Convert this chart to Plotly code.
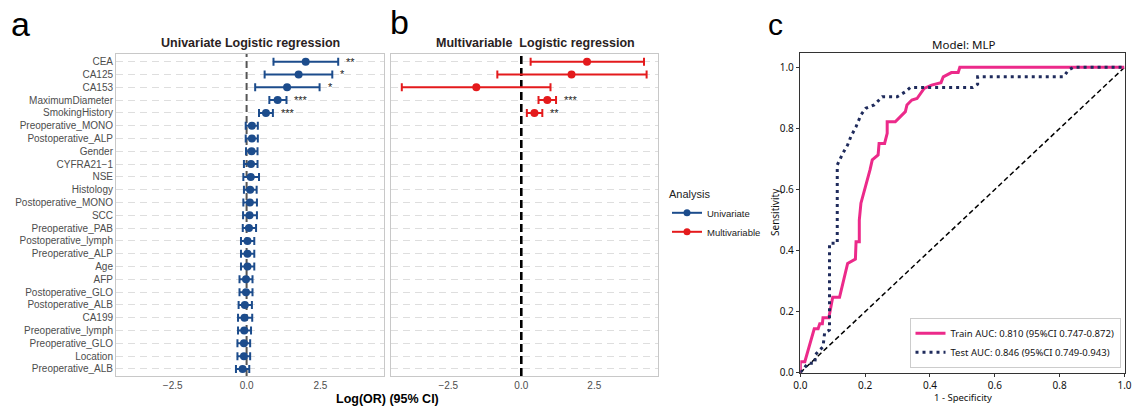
import plotly.graph_objects as go

W, H = 1134, 408

variables = ["CEA", "CA125", "CA153", "MaximumDiameter", "SmokingHistory",
             "Preoperative_MONO", "Postoperative_ALP", "Gender", "CYFRA21\u22121", "NSE",
             "Histology", "Postoperative_MONO", "SCC", "Preoperative_PAB",
             "Postoperative_lymph", "Preoperative_ALP", "Age", "AFP",
             "Postoperative_GLO", "Postoperative_ALB", "CA199", "Preoperative_lymph",
             "Preoperative_GLO", "Location", "Preoperative_ALB"]

uni_logor = [2.00, 1.76, 1.37, 1.05, 0.655, 0.18, 0.18, 0.17, 0.15, 0.14, 0.12, 0.11, 0.10,
             0.08, 0.03, 0.03, 0.03, -0.02, -0.02, -0.06, -0.07, -0.08, -0.09, -0.09, -0.135]
uni_low = [0.91, 0.61, 0.29, 0.77, 0.42, -0.03, -0.03, -0.02, -0.09, -0.11, -0.09, -0.11, -0.12,
           -0.13, -0.19, -0.19, -0.19, -0.24, -0.24, -0.27, -0.29, -0.29, -0.31, -0.31, -0.36]
uni_high = [3.10, 2.90, 2.47, 1.35, 0.89, 0.38, 0.38, 0.37, 0.37, 0.42, 0.34, 0.35, 0.35,
            0.32, 0.26, 0.26, 0.26, 0.20, 0.20, 0.18, 0.19, 0.15, 0.12, 0.12, 0.09]
uni_sig = ["**", "*", "*", "***", "***"] + [""] * 20

multi_vars = ["CEA", "CA125", "CA153", "MaximumDiameter", "SmokingHistory"]
multi_logor = [2.25, 1.72, -1.54, 0.89, 0.45]
multi_low = [0.32, -0.82, -4.09, 0.59, 0.19]
multi_high = [4.20, 4.29, 1.00, 1.19, 0.72]
multi_sig = ["", "", "", "***", "**"]

x_ticks = [-2.5, 0.0, 2.5]

train_fpr = [0, 0, 0.014, 0.043, 0.055, 0.06, 0.068, 0.07, 0.088, 0.092, 0.10, 0.121, 0.146,
             0.17, 0.172, 0.182, 0.182, 0.187, 0.202, 0.215, 0.222, 0.24, 0.243, 0.26, 0.268,
             0.268, 0.293, 0.324, 0.329, 0.344, 0.36, 0.382, 0.405, 0.434, 0.441, 0.466,
             0.487, 0.492, 1.0]
train_tpr = [0, 0.036, 0.036, 0.144, 0.144, 0.16, 0.16, 0.18, 0.18, 0.205, 0.247, 0.247, 0.358,
             0.372, 0.429, 0.429, 0.5, 0.555, 0.61, 0.664, 0.697, 0.713, 0.751, 0.751, 0.784,
             0.822, 0.822, 0.855, 0.877, 0.893, 0.898, 0.931, 0.942, 0.950, 0.969, 0.983,
             0.983, 1.0, 1.0]
test_fpr = [0, 0.024, 0.045, 0.047, 0.07, 0.075, 0.09, 0.09, 0.114, 0.114, 0.131, 0.146, 0.156,
            0.172, 0.187, 0.202, 0.228, 0.253, 0.299, 0.324, 0.339, 0.532, 0.547, 0.547,
            0.812, 0.827, 0.842, 1.0]
test_tpr = [0, 0.031, 0.031, 0.06, 0.085, 0.13, 0.14, 0.424, 0.424, 0.68, 0.718, 0.746, 0.773,
            0.806, 0.844, 0.866, 0.877, 0.904, 0.904, 0.920, 0.934, 0.934, 0.945, 0.969,
            0.969, 0.991, 1.0, 1.0]
train_label = "Train AUC: 0.810 (95%CI 0.747-0.872)"
test_label = "Test AUC: 0.846 (95%CI 0.749-0.943)"

BLUE = "#1c4c8c"
RED = "#e41a1c"
PINK = "#ec2a8a"
NAVY = "#1f2b5c"
SANS = "Liberation Sans, Arial, sans-serif"
SANS_C = "Noto Sans, DejaVu Sans, sans-serif"

Y_RANGE = [24.55, -0.6]


def px_x(p):
    return p / W


def px_y(p):
    return 1 - p / H


fig = go.Figure()

idx = {v: i for i, v in enumerate(variables)}
uni_y = [idx[v] for v in variables]
multi_y = [idx[v] for v in multi_vars]

# reference lines at log(OR) = 0 (drawn first, beneath the points)
fig.add_trace(go.Scatter(x=[0, 0], y=Y_RANGE, mode="lines", xaxis="x", yaxis="y",
                         line=dict(color="#555555", width=2, dash="7px,4px"),
                         showlegend=False, hoverinfo="skip"))
fig.add_trace(go.Scatter(x=[0, 0], y=Y_RANGE, mode="lines", xaxis="x2", yaxis="y2",
                         line=dict(color="black", width=2.6, dash="8px,4px"),
                         showlegend=False, hoverinfo="skip"))

fig.add_trace(go.Scatter(
    x=uni_logor, y=uni_y, mode="markers", xaxis="x", yaxis="y",
    marker=dict(color=BLUE, size=8),
    error_x=dict(type="data", symmetric=False,
                 array=[h - o for h, o in zip(uni_high, uni_logor)],
                 arrayminus=[o - l for o, l in zip(uni_logor, uni_low)],
                 color=BLUE, thickness=2, width=4),
    showlegend=False, hoverinfo="skip"))

fig.add_trace(go.Scatter(
    x=multi_logor, y=multi_y, mode="markers", xaxis="x2", yaxis="y2",
    marker=dict(color=RED, size=8),
    error_x=dict(type="data", symmetric=False,
                 array=[h - o for h, o in zip(multi_high, multi_logor)],
                 arrayminus=[o - l for o, l in zip(multi_logor, multi_low)],
                 color=RED, thickness=2, width=4),
    showlegend=False, hoverinfo="skip"))

# legend-only entries
fig.add_trace(go.Scatter(x=[None], y=[None], mode="lines+markers", name="Univariate",
                         line=dict(color=BLUE, width=2), marker=dict(color=BLUE, size=7),
                         xaxis="x", yaxis="y", legend="legend"))
fig.add_trace(go.Scatter(x=[None], y=[None], mode="lines+markers", name="Multivariable",
                         line=dict(color=RED, width=2), marker=dict(color=RED, size=7),
                         xaxis="x", yaxis="y", legend="legend"))

# ROC
fig.add_trace(go.Scatter(x=[0, 1], y=[0, 1], mode="lines", xaxis="x3", yaxis="y3",
                         line=dict(color="black", width=1.5, dash="5px,3px"),
                         showlegend=False, hoverinfo="skip"))
fig.add_trace(go.Scatter(x=train_fpr, y=train_tpr, mode="lines", xaxis="x3", yaxis="y3",
                         name=train_label, line=dict(color=PINK, width=3),
                         legend="legend2"))
fig.add_trace(go.Scatter(x=test_fpr, y=test_tpr, mode="lines", xaxis="x3", yaxis="y3",
                         name=test_label, line=dict(color=NAVY, width=3, dash="3px,4px"),
                         legend="legend2"))

# significance stars
annotations = []
for v, h, s in zip(variables, uni_high, uni_sig):
    if s:
        annotations.append(dict(x=h + 0.2, y=idx[v], xref="x", yref="y", text=s,
                                showarrow=False, xanchor="left", yanchor="middle",
                                font=dict(family=SANS, size=11, color="#222222")))
for v, h, s in zip(multi_vars, multi_high, multi_sig):
    if s:
        annotations.append(dict(x=h + 0.2, y=idx[v], xref="x2", yref="y2", text=s,
                                showarrow=False, xanchor="left", yanchor="middle",
                                font=dict(family=SANS, size=11, color="#222222")))


def ann(text, x, y, size, bold=False, family=SANS, color="#222222", angle=0, xanchor="center"):
    annotations.append(dict(text=("<b>%s</b>" % text) if bold else text, x=px_x(x), y=px_y(y),
                            xref="paper", yref="paper", showarrow=False, xanchor=xanchor,
                            yanchor="middle", textangle=angle,
                            font=dict(family=family, size=size, color=color)))


ann("a", 20, 24, 34, family=SANS, color="black")
ann("b", 399, 22, 34, family=SANS, color="black")
ann("c", 775, 24, 30, family=SANS, color="black")
ann("Univariate Logistic regression", 250, 43, 12.5, bold=True, color="#2a2222")
ann("Multivariable&nbsp;&nbsp;Logistic regression", 535, 43, 12.5, bold=True, color="#2a2222")
ann("Log(OR) (95% CI)", 387, 399, 12.5, bold=True, color="black")
ann("Model: MLP", 963, 44, 11.5, family=SANS_C, color="#111111")
ann("1 - Specificity", 963, 397, 9.5, family=SANS_C, color="#111111")
ann("Sensitivity", 775, 212, 10, family=SANS_C, color="#111111", angle=-90)

forest_x = dict(range=[-4.42, 4.65], tickvals=x_ticks, ticktext=["\u22122.5", "0.0", "2.5"],
                showgrid=False, zeroline=False, showline=True, mirror=True,
                linecolor="#c8c8c8", linewidth=1, ticks="", automargin=False,
                tickfont=dict(family=SANS, size=10, color="#4d4d4d"))
forest_y = dict(range=Y_RANGE, tickvals=list(range(len(variables))),
                showgrid=True, gridcolor="#dedede", gridwidth=1, griddash="7px,5px",
                zeroline=False, showline=True, mirror=True, linecolor="#c8c8c8",
                linewidth=1, ticks="", automargin=False,
                tickfont=dict(family=SANS, size=10, color="#4d4d4d"))

ax_a_x = dict(forest_x, domain=[px_x(116), px_x(384)], anchor="y")
ax_a_y = dict(forest_y, domain=[px_y(376), px_y(54)], anchor="x", ticktext=variables)
ax_b_x = dict(forest_x, domain=[px_x(390.7), px_x(658.3)], anchor="y2",
              range=[-4.47, 4.69])
ax_b_y = dict(forest_y, domain=[px_y(376), px_y(54)], anchor="x2", showticklabels=False,
              ticktext=variables)

roc_common = dict(showgrid=False, zeroline=False, showline=True, mirror=True,
                  linecolor="#333333", linewidth=1, ticks="outside", ticklen=3.5,
                  tickcolor="#333333", tickwidth=1, dtick=0.2, tick0=0, tickformat=".1f",
                  automargin=False, ticklabeloverflow="allow",
                  tickfont=dict(family=SANS_C, size=10, color="#111111"))
ax_c_x = dict(roc_common, domain=[px_x(800.3), px_x(1124.5)], range=[0, 1], anchor="y3",
              ticklabelstandoff=0)
ax_c_y = dict(roc_common, domain=[px_y(372.7), px_y(52.7)], range=[0, 1.048], anchor="x3")

fig.update_layout(
    width=W, height=H, margin=dict(l=0, r=0, t=0, b=0, autoexpand=False),
    paper_bgcolor="white", plot_bgcolor="white",
    xaxis=ax_a_x, yaxis=ax_a_y, xaxis2=ax_b_x, yaxis2=ax_b_y,
    xaxis3=ax_c_x, yaxis3=ax_c_y,
    annotations=annotations,
    legend=dict(x=px_x(667), y=px_y(184), xanchor="left", yanchor="top",
                xref="container", yref="container",
                title=dict(text="Analysis", font=dict(family=SANS, size=11, color="#222222")),
                font=dict(family=SANS, size=9.5, color="#222222"),
                bgcolor="rgba(0,0,0,0)", itemwidth=30, tracegroupgap=0),
    legend2=dict(x=px_x(1120.5), y=px_y(367.7), xanchor="right", yanchor="bottom",
                 xref="container", yref="container",
                 font=dict(family=SANS_C, size=9.5, color="#111111"),
                 bordercolor="#cccccc", borderwidth=1, bgcolor="rgba(255,255,255,0.85)",
                 itemwidth=30, tracegroupgap=0),
    showlegend=True,
)

fig.write_html("out.html")
